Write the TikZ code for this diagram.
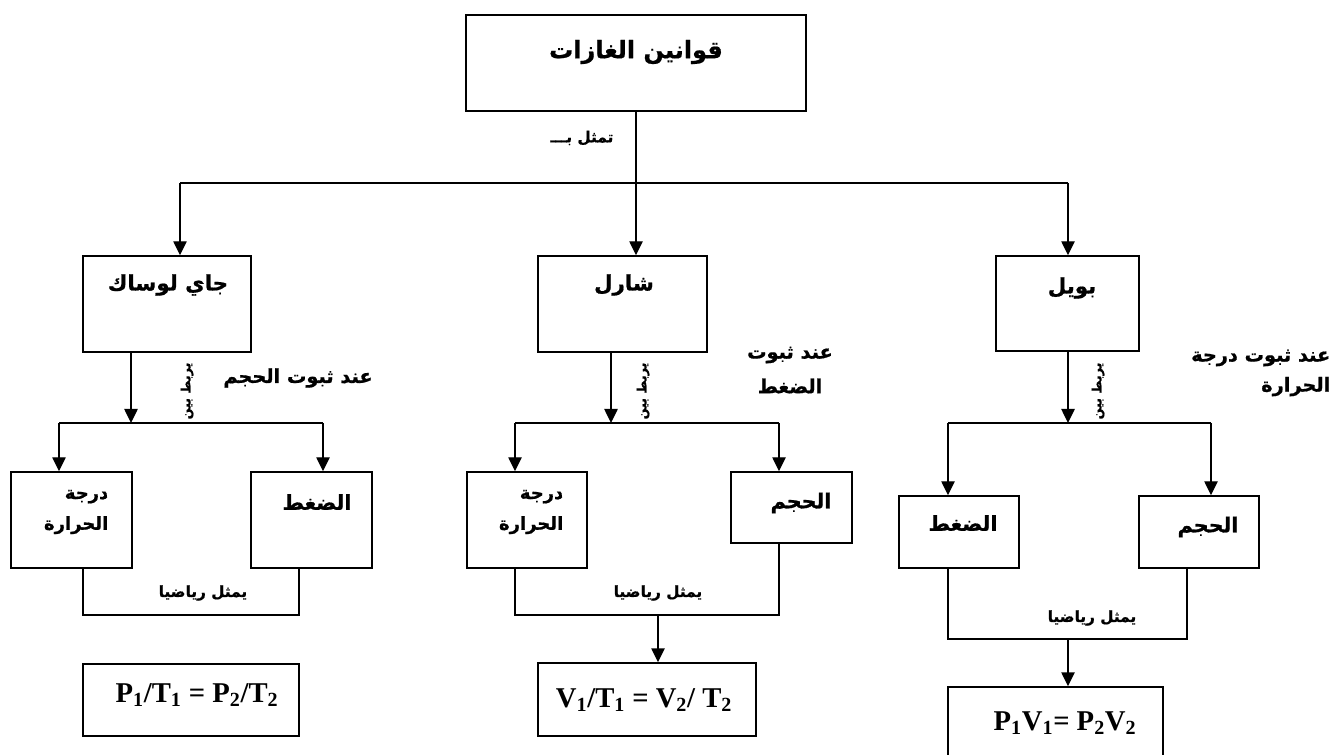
\documentclass[tikz,border=0pt]{standalone}
\usepackage{fontspec}
\setmainfont{Liberation Serif}
\newfontfamily\arabicfont[Script=Arabic, BoldFeatures={FakeBold=0.8}]{DejaVu Sans}
\TeXXeTstate=1
\usetikzlibrary{arrows.meta}
\newcommand{\ar}[1]{{\arabicfont\bfseries\beginR #1\endR}}

\begin{document}
\begin{tikzpicture}[x=0.75pt, y=-0.75pt,
  box/.style={draw, line width=1.1pt, inner sep=0pt},
  arr/.style={-{Triangle[length=10.5pt, width=10pt]}, line width=1.1pt},
  wire/.style={line width=1.1pt},
  bigtxt/.style={font=\fontsize{16}{19}\selectfont},
  midtxt/.style={font=\fontsize{15.5}{18}\selectfont},
  smalltxt/.style={font=\fontsize{11.5}{14}\selectfont},
  eqtxt/.style={font=\fontsize{21.5}{26}\selectfont\bfseries}]
\useasboundingbox (0,0) rectangle (1336,755);

% Top box and the three laws
\node[box, minimum width=255pt, minimum height=72pt] (gas) at (636,63) {};
\node[box, minimum width=126pt, minimum height=72pt] (gay) at (167,304) {};
\node[box, minimum width=126.75pt, minimum height=72pt] (charles) at (622.5,304) {};
\node[box, minimum width=107.25pt, minimum height=71.25pt] (boyle) at (1067.5,303.5) {};

\node[font=\fontsize{18}{21}\selectfont] (gasT) at (636,52) {\ar{قوانين الغازات}};
\node[bigtxt] (gayT) at (168,285) {\ar{جاي لوساك}};
\node[bigtxt] (charlesT) at (624,285) {\ar{شارل}};
\node[bigtxt] (boyleT) at (1072,288) {\ar{بويل}};
\node[font=\fontsize{11.5}{14}\selectfont] (by) at (582,138) {\ar{تمثل بـــ}};

% Branches from the top box
\coordinate (barL) at (180,183);
\coordinate (barR) at (1068,183);
\draw[wire] (gas.south) -- (gas.south |- barL);
\draw[wire] (barL) -- (barR);
\draw[arr] (barL) -- (barL |- gay.north);
\draw[arr] (gas.south |- barL) -- (gas.south |- charles.north);
\draw[arr] (barR) -- (barR |- boyle.north);

% Sub boxes
\node[box, minimum width=90.75pt, minimum height=72pt] (gT) at (71.5,520) {};
\node[box, minimum width=90.75pt, minimum height=72pt] (gP) at (311.5,520) {};
\node[box, minimum width=90pt, minimum height=72pt] (cT) at (527,520) {};
\node[box, minimum width=90.75pt, minimum height=53.25pt] (cV) at (791.5,507.5) {};
\node[box, minimum width=90pt, minimum height=54pt] (bP) at (959,532) {};
\node[box, minimum width=90pt, minimum height=54pt] (bV) at (1199,532) {};

\node[font=\fontsize{13.5}{23}\selectfont, align=right, anchor=east] (gTT) at (113,512) {\ar{درجة}\\\ar{الحرارة}};
\node[midtxt] (gPT) at (317,502) {\ar{الضغط}};
\node[font=\fontsize{13.5}{23}\selectfont, align=right, anchor=east] (cTT) at (568,512) {\ar{درجة}\\\ar{الحرارة}};
\node[midtxt] (cVT) at (801,503) {\ar{الحجم}};
\node[midtxt] (bPT) at (963,523) {\ar{الضغط}};
\node[midtxt] (bVT) at (1208,527) {\ar{الحجم}};

% Links down to the sub boxes
\foreach \n/\s/\l/\r/\t in {gay/131/59/323/187, charles/611/515/779/643, boyle/1068/948/1211/1098}
{
  \coordinate (\n J) at (\s,423);
  \coordinate (\n L) at (\l,423);
  \coordinate (\n R) at (\r,423);
  \draw[arr] (\n.south -| \n J) -- (\n J);
  \draw[wire] (\n L) -- (\n R);
  \node[rotate=90, font=\fontsize{9.5}{11}\selectfont] (\n by) at (\t,391) {\ar{يربط بين}};
}
\draw[arr] (gayL) -- (gayL |- gT.north);
\draw[arr] (gayR) -- (gayR |- gP.north);
\draw[arr] (charlesL) -- (charlesL |- cT.north);
\draw[arr] (charlesR) -- (charlesR |- cV.north);
\draw[arr] (boyleL) -- (boyleL |- bP.north);
\draw[arr] (boyleR) -- (boyleR |- bV.north);

% Conditions
\node[font=\fontsize{14.5}{26}\selectfont] (gC) at (298,378) {\ar{عند ثبوت الحجم}};
\node[font=\fontsize{14.5}{26}\selectfont, align=center] (cC) at (790,370) {\ar{عند ثبوت}\\\ar{الضغط}};
\node[font=\fontsize{14.5}{22.5}\selectfont, align=right, anchor=east] (bC) at (1335,373) {\ar{عند ثبوت درجة}\\\ar{الحرارة}};

% Mathematical form
\coordinate (gU1) at (83,615);
\coordinate (gU2) at (299,615);
\coordinate (cU1) at (515,615);
\coordinate (cU2) at (779,615);
\coordinate (cM) at (658,615);
\coordinate (bU1) at (948,639);
\coordinate (bU2) at (1187,639);
\coordinate (bM) at (1068,639);
\draw[wire] (gU1 |- gT.south) -- (gU1) -- (gU2) -- (gU2 |- gP.south);
\draw[wire] (cU1 |- cT.south) -- (cU1) -- (cU2) -- (cU2 |- cV.south);
\draw[wire] (bU1 |- bP.south) -- (bU1) -- (bU2) -- (bU2 |- bV.south);
\node[smalltxt] (gM) at (203,593) {\ar{يمثل رياضيا}};
\node[smalltxt] (cMT) at (658,593) {\ar{يمثل رياضيا}};
\node[smalltxt] (bMT) at (1092,618) {\ar{يمثل رياضيا}};

\node[box, minimum width=162pt, minimum height=54pt] (gF) at (191,700) {};
\node[box, minimum width=163.5pt, minimum height=54.75pt] (cF) at (647,699.5) {};
\node[box, minimum width=161.25pt, minimum height=56.25pt] (bF) at (1055.5,724.5) {};
\draw[arr] (cM) -- (cM |- cF.north);
\draw[arr] (bM) -- (bM |- bF.north);

\node[eqtxt] (gFT) at (197,695) {P\textsubscript{1}/T\textsubscript{1} = P\textsubscript{2}/T\textsubscript{2}};
\node[eqtxt] (cFT) at (644,700) {V\textsubscript{1}/T\textsubscript{1} = V\textsubscript{2}/ T\textsubscript{2}};
\node[eqtxt] (bFT) at (1065,723) {P\textsubscript{1}V\textsubscript{1}= P\textsubscript{2}V\textsubscript{2}};
\end{tikzpicture}
\end{document}
